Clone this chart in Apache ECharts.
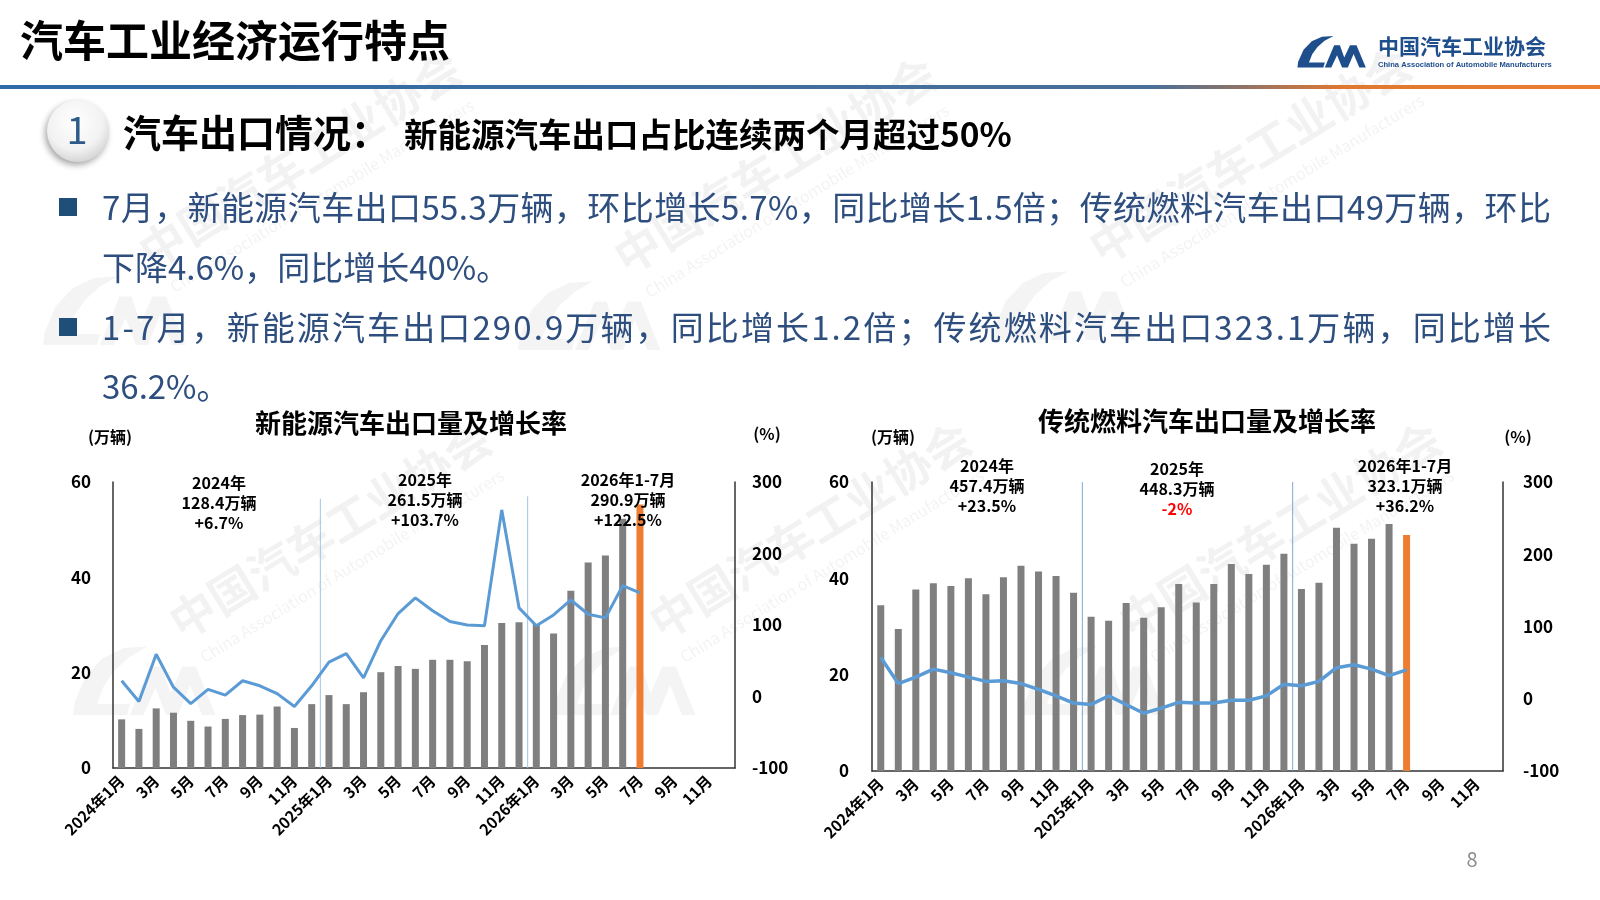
<!DOCTYPE html>
<html>
<head>
<meta charset="utf-8">
<title>汽车工业经济运行特点</title>
<script src="https://cdn.jsdelivr.net/npm/echarts@6/dist/echarts.min.js"></script>
<style>
  html, body { margin: 0; padding: 0; background: #fff; }
  #main { width: 1600px; height: 900px; }
</style>
</head>
<body>
<div id="main"></div>
<script>
  // categories: 2024-01 .. 2026-12
  var months = [
    "2024年1月", "2月", "3月", "4月", "5月", "6月", "7月", "8月", "9月", "10月", "11月", "12月",
    "2025年1月", "2月", "3月", "4月", "5月", "6月", "7月", "8月", "9月", "10月", "11月", "12月",
    "2026年1月", "2月", "3月", "4月", "5月", "6月", "7月", "8月", "9月", "10月", "11月", "12月"
  ];

  // 新能源汽车出口量（万辆）及同比增长率（%）
  var nevVolume = [
    10.2, 8.2, 12.5, 11.6, 9.9, 8.7, 10.3, 11.1, 11.2, 12.9, 8.4, 13.4,
    15.3, 13.4, 15.9, 20.1, 21.4, 20.8, 22.7, 22.7, 22.4, 25.8, 30.4, 30.6,
    30.2, 28.2, 37.2, 43.1, 44.6, 52.3, 55.3
  ];
  var nevGrowth = [
    22, -7, 59, 13, -10, 10, 2, 22, 15, 4, -14, 15,
    48, 60, 26, 78, 116, 138, 120, 105, 100, 99, 261, 124,
    99, 114, 135, 115, 110, 155, 145
  ];

  // 传统燃料汽车出口量（万辆）及同比增长率（%）
  var iceVolume = [
    34.4, 29.5, 37.7, 39.0, 38.4, 40.0, 36.7, 40.2, 42.6, 41.4, 40.5, 37.0,
    32.0, 31.2, 34.9, 31.8, 34.0, 38.8, 35.0, 38.8, 43.0, 40.9, 42.8, 45.1,
    37.8, 39.1, 50.5, 47.2, 48.2, 51.3, 49.0
  ];
  var iceGrowth = [
    57, 21, 30, 41, 36, 30, 24, 25, 21, 13, 4, -6,
    -8, 4, -8, -20, -13, -5, -6, -6, -2, -2, 4, 20,
    18, 24, 43, 47, 41, 32, 40
  ];

  var volTicks = [0, 60, 20];        // min, max, interval
  var rateTicks = [-100, 300, 100];
  var yearBreaks = [12, 24];          // 年份分隔线位置（类目边界）
  var nevBreakTop = [56.5, 57];
  var iceBreakTop = [60, 60];

  var nevNotes = [
    ["2024年", "128.4万辆", "+6.7%"],
    ["2025年", "261.5万辆", "+103.7%"],
    ["2026年1-7月", "290.9万辆", "+122.5%"]
  ];
  var iceNotes = [
    ["2024年", "457.4万辆", "+23.5%"],
    ["2025年", "448.3万辆", "-2%"],
    ["2026年1-7月", "323.1万辆", "+36.2%"]
  ];

  var FONT = '"Noto Sans CJK SC", "Noto Sans", sans-serif';
  var BAR = "#7f7f7f", HIGHLIGHT = "#ed7d31", LINE = "#5b9bd5", DARK = "#1f4e8c";
  // logo outline in a 100x50 box
  var LOGO_C = [[52, 4], [36, 5.1], [21.9, 11.5], [10.5, 23.1], [3, 40], [2, 48], [38, 48], [40, 41],
                [18, 41], [22.5, 29.6], [29.8, 19.5], [39.7, 10.9]];
  var LOGO_M = [[40, 48], [53, 17], [61, 17], [67, 34], [75, 17], [84, 17], [97, 48], [88, 48],
                [80, 29], [72, 48], [64, 48], [57, 31], [49, 48]];

  var chartDom = document.getElementById("main");
  var myChart = echarts.init(chartDom);
  var ctx = document.createElement("canvas").getContext("2d");

  function txt(x, y, text, size, color, weight, align) {
    return {
      type: "text", x: x, y: y, z: 20,
      style: {
        text: text, fill: color, fontSize: size, fontWeight: weight || "normal",
        fontFamily: FONT, textAlign: align || "left", textVerticalAlign: "middle"
      }
    };
  }

  // spread the characters of a line between x0 and x1 (justified paragraph line)
  function justified(text, x0, x1, y, size, color) {
    ctx.font = size + "px " + FONT;
    var chars = Array.from(text);
    var widths = chars.map(function (c) { return ctx.measureText(c).width; });
    var total = widths.reduce(function (a, b) { return a + b; }, 0);
    var gap = (x1 - x0 - total) / (chars.length - 1);
    var x = x0, out = [];
    chars.forEach(function (c, i) {
      out.push(txt(x, y, c, size, color));
      x += widths[i] + gap;
    });
    return out;
  }

  function logo(x, y, w, h, color, z) {
    return [LOGO_C, LOGO_M].map(function (pts) {
      return {
        type: "polygon", z: z, silent: true,
        shape: { points: pts.map(function (p) { return [x + p[0] * w / 100, y + p[1] * h / 50]; }) },
        style: { fill: color }
      };
    });
  }

  function barData(values) {
    return values.map(function (v, i) {
      if (i === values.length - 1) {
        return { value: v, itemStyle: { color: HIGHLIGHT } };
      }
      return v;
    });
  }

  // watermark: logo + association name, rotated
  function watermark(x, y) {
    return logo(x, y, 150, 78, "rgba(0,0,0,0.045)", 0).concat([
      {
        type: "group", x: x + 260, y: y - 110, rotation: 0.55, z: 0, silent: true,
        children: [
          { type: "text", style: { text: "中国汽车工业协会", fontSize: 46, fontWeight: "bold", fontFamily: FONT,
            fill: "rgba(0,0,0,0.05)", textAlign: "center", textVerticalAlign: "middle" } },
          { type: "text", y: 42, style: { text: "China Association of Automobile Manufacturers", fontSize: 16,
            fontFamily: FONT, fill: "rgba(0,0,0,0.05)", textAlign: "center", textVerticalAlign: "middle" } }
        ]
      }
    ]);
  }

  var graphics = [];
  [[40, 270], [515, 275], [990, 265], [70, 640], [550, 640], [1020, 640]].forEach(function (p) {
    graphics = graphics.concat(watermark(p[0], p[1]));
  });

  // header
  graphics.push(txt(20, 41, "汽车工业经济运行特点", 43, "#000", "bold"));
  graphics.push({
    type: "rect", z: 10, shape: { x: 0, y: 85, width: 1600, height: 4 },
    style: {
      fill: new echarts.graphic.LinearGradient(0, 0, 1, 0, [
        { offset: 0, color: "#2e6aa6" },
        { offset: 0.72, color: "#4a6f98" },
        { offset: 0.84, color: "#e0782f" },
        { offset: 1, color: "#ed7d31" }
      ])
    }
  });
  graphics = graphics.concat(logo(1296, 33, 72, 36, DARK, 10));
  graphics.push(txt(1378, 46, "中国汽车工业协会", 21, DARK, "bold"));
  graphics.push({
    type: "text", x: 1378, y: 65, z: 20,
    style: { text: "China Association of Automobile Manufacturers", fill: DARK, fontSize: 7.6,
      fontWeight: "bold", fontFamily: "Liberation Sans, Arial, sans-serif", textVerticalAlign: "middle" }
  });

  // section heading
  graphics.push({
    type: "circle", z: 10, shape: { cx: 78, cy: 131, r: 31 },
    style: {
      fill: new echarts.graphic.RadialGradient(0.45, 0.35, 0.75, [
        { offset: 0, color: "#ffffff" },
        { offset: 0.6, color: "#f2f2f2" },
        { offset: 1, color: "#c8c8c8" }
      ]),
      shadowBlur: 6, shadowOffsetY: 3, shadowOffsetX: -2, shadowColor: "rgba(0,0,0,0.35)"
    }
  });
  graphics.push(txt(77, 130, "1", 38, "#2e5c8a", "normal", "center"));
  graphics.push(txt(123, 133, "汽车出口情况：", 38, "#000", "bold"));
  graphics.push(txt(404, 134, "新能源汽车出口占比连续两个月超过50%", 33.5, "#000", "bold"));

  // bullets
  var BODY = "#2d4e7e";
  graphics.push({ type: "rect", z: 10, shape: { x: 59, y: 198, width: 18, height: 18 }, style: { fill: "#1f4e79" } });
  graphics.push({ type: "rect", z: 10, shape: { x: 59, y: 318, width: 18, height: 18 }, style: { fill: "#1f4e79" } });
  graphics = graphics.concat(justified("7月，新能源汽车出口55.3万辆，环比增长5.7%，同比增长1.5倍；传统燃料汽车出口49万辆，环比", 102, 1551, 207, 33, BODY));
  graphics.push(txt(102, 267, "下降4.6%，同比增长40%。", 33, BODY));
  graphics = graphics.concat(justified("1-7月，新能源汽车出口290.9万辆，同比增长1.2倍；传统燃料汽车出口323.1万辆，同比增长", 102, 1551, 327, 33, BODY));
  graphics.push(txt(102, 386, "36.2%。", 33, BODY));

  // chart titles and axis names
  graphics.push(txt(411, 423, "新能源汽车出口量及增长率", 26, "#000", "bold", "center"));
  graphics.push(txt(1207, 421, "传统燃料汽车出口量及增长率", 26, "#000", "bold", "center"));
  graphics.push(txt(110, 437, "(万辆)", 16, "#000", "bold", "center"));
  graphics.push(txt(767, 434, "(%)", 16, "#000", "bold", "center"));
  graphics.push(txt(893, 437, "(万辆)", 16, "#000", "bold", "center"));
  graphics.push(txt(1518, 437, "(%)", 16, "#000", "bold", "center"));

  // year notes
  function notes(list, xs, ys) {
    list.forEach(function (n, k) {
      n.forEach(function (line, j) {
        var color = line.charAt(0) === "-" ? "#ff0000" : "#000";
        graphics.push(txt(xs[k], ys[k] + j * 20, line, 16, color, "bold", "center"));
      });
    });
  }
  notes(nevNotes, [219, 425, 628], [483, 480, 480]);
  notes(iceNotes, [987, 1177, 1405], [466, 469, 466]);

  graphics.push(txt(1472, 859, "8", 20, "#8c8c8c", "normal", "center"));

  function catAxis(grid) {
    return {
      type: "category", gridIndex: grid, data: months, boundaryGap: true,
      axisLine: { lineStyle: { color: "#333", width: 1.5 } },
      axisTick: { show: false },
      axisLabel: {
        interval: 1, rotate: 45, margin: 10, color: "#000",
        fontSize: 15.5, fontWeight: "bold", fontFamily: FONT
      },
      splitLine: { show: false }
    };
  }
  function valAxis(grid, ticks, pos, margin) {
    return {
      type: "value", gridIndex: grid, position: pos,
      min: ticks[0], max: ticks[1], interval: ticks[2],
      axisLine: { show: true, lineStyle: { color: "#333", width: 1.5 } },
      axisTick: { show: false },
      splitLine: { show: false },
      axisLabel: { margin: margin, color: "#000", fontSize: 17, fontWeight: "bold", fontFamily: FONT }
    };
  }
  function breakAxis(grid) {
    return { type: "value", gridIndex: grid, min: 0, max: months.length, show: false };
  }
  function breakSeries(xAxisIndex, yAxisIndex, tops, color) {
    return yearBreaks.map(function (b, i) {
      return {
        type: "line", xAxisIndex: xAxisIndex, yAxisIndex: yAxisIndex, silent: true,
        symbol: "none", z: 1,
        lineStyle: { color: color, width: 1 },
        data: [[b, 0], [b, tops[i]]]
      };
    });
  }

  var option = {
    animation: false,
    backgroundColor: "#fff",
    textStyle: { fontFamily: FONT },
    graphic: { elements: graphics },
    grid: [
      { left: 113, right: 865, top: 482, bottom: 132 },
      { left: 872, right: 97, top: 482, bottom: 129 }
    ],
    xAxis: [catAxis(0), catAxis(1), breakAxis(0), breakAxis(1)],
    yAxis: [
      valAxis(0, volTicks, "left", 22),
      valAxis(0, rateTicks, "right", 17),
      valAxis(1, volTicks, "left", 23),
      valAxis(1, rateTicks, "right", 20)
    ],
    series: [].concat(
      breakSeries(2, 0, nevBreakTop, "#9dc3e6"),
      breakSeries(3, 2, iceBreakTop, "#7fa7d6"),
      [
        {
          name: "新能源汽车出口量", type: "bar", xAxisIndex: 0, yAxisIndex: 0,
          barWidth: 7, itemStyle: { color: BAR }, data: barData(nevVolume), z: 2
        },
        {
          name: "新能源汽车增长率", type: "line", xAxisIndex: 0, yAxisIndex: 1,
          symbol: "none", lineStyle: { color: LINE, width: 3 }, data: nevGrowth, z: 3
        },
        {
          name: "传统燃料汽车出口量", type: "bar", xAxisIndex: 1, yAxisIndex: 2,
          barWidth: 7, itemStyle: { color: BAR }, data: barData(iceVolume), z: 2
        },
        {
          name: "传统燃料汽车增长率", type: "line", xAxisIndex: 1, yAxisIndex: 3,
          symbol: "none", lineStyle: { color: LINE, width: 3.5 }, data: iceGrowth, z: 3
        }
      ]
    )
  };

  option && myChart.setOption(option);
</script>
</body>
</html>
